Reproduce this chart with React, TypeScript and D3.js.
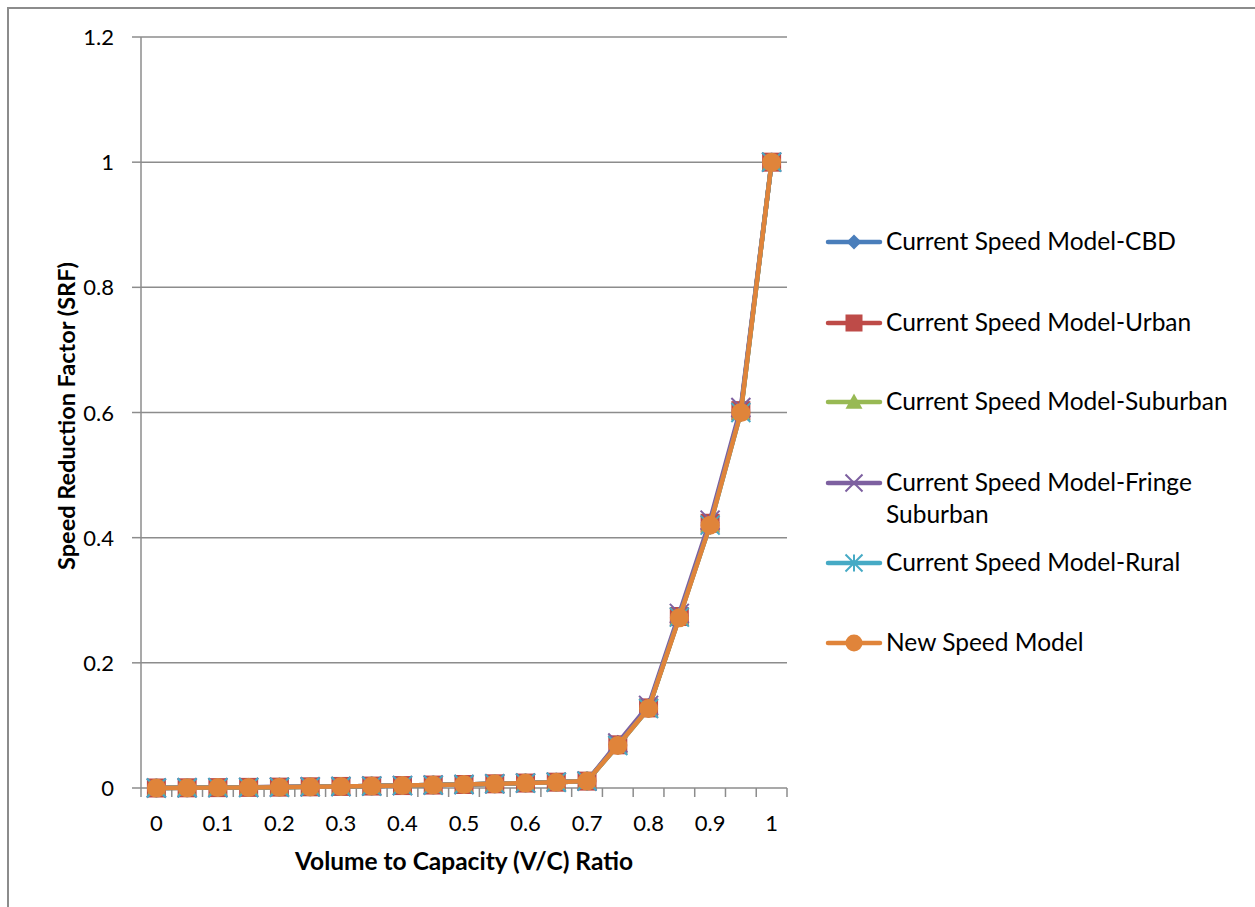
import * as d3 from "d3";

const categories = ["0", "0.05", "0.1", "0.15", "0.2", "0.25", "0.3", "0.35", "0.4", "0.45", "0.5", "0.55", "0.6", "0.65", "0.7", "0.75", "0.8", "0.85", "0.9", "0.95", "1"];
const tickLabels = ["0", "0.1", "0.2", "0.3", "0.4", "0.5", "0.6", "0.7", "0.8", "0.9", "1"];
const yTicks = [0, 0.2, 0.4, 0.6, 0.8, 1, 1.2];

const cbd = [0, 0.0003, 0.0006, 0.001, 0.0014, 0.0019, 0.0025, 0.0031, 0.0039, 0.0047, 0.0056, 0.0067, 0.0079, 0.0093, 0.011, 0.07, 0.129, 0.275, 0.424, 0.604, 1];
const urban = [0, 0.0003, 0.0006, 0.001, 0.0014, 0.0019, 0.0025, 0.0031, 0.0039, 0.0047, 0.0056, 0.0067, 0.0079, 0.0093, 0.011, 0.069, 0.128, 0.274, 0.423, 0.603, 1];
const suburban = [0, 0.0003, 0.0006, 0.0009, 0.0013, 0.0018, 0.0024, 0.003, 0.0038, 0.0046, 0.0055, 0.0066, 0.0078, 0.0092, 0.011, 0.068, 0.127, 0.273, 0.421, 0.601, 1];
const fringe = [0, 0.0003, 0.0006, 0.001, 0.0014, 0.0019, 0.0025, 0.0032, 0.004, 0.0048, 0.0057, 0.0068, 0.008, 0.0094, 0.0112, 0.072, 0.132, 0.279, 0.428, 0.608, 1];
const rural = [0, 0.0003, 0.0006, 0.0009, 0.0013, 0.0018, 0.0024, 0.003, 0.0038, 0.0046, 0.0055, 0.0066, 0.0078, 0.0092, 0.011, 0.068, 0.127, 0.273, 0.42, 0.6, 1];
const newModel = [0, 0.0003, 0.0006, 0.0009, 0.0013, 0.0018, 0.0024, 0.003, 0.0038, 0.0046, 0.0055, 0.0066, 0.0078, 0.0092, 0.011, 0.068, 0.127, 0.272, 0.42, 0.6, 1];

const seriesNames = [
  "Current Speed Model-CBD",
  "Current Speed Model-Urban",
  "Current Speed Model-Suburban",
  "Current Speed Model-Fringe Suburban",
  "Current Speed Model-Rural",
  "New Speed Model",
];
const seriesValues = [cbd, urban, suburban, fringe, rural, newModel];
const colors = ["#4A7EBB", "#BE4B48", "#98B954", "#7D60A0", "#46AAC5", "#E0843A"];
const markers = ["diamond", "square", "triangle", "x", "star", "circle"];

const FONT = "Lato, Calibri, sans-serif";
const GRID = "#8c8c8c";

const margin = { left: 141, right: 787, top: 37, bottom: 788 };

function Marker({ kind, x, y, color, size }: { kind: string; x: number; y: number; color: string; size: number }) {
  const h = size / 2;
  if (kind === "diamond") {
    return <path d={`M${x},${y - h}L${x + h},${y}L${x},${y + h}L${x - h},${y}Z`} fill={color} />;
  }
  if (kind === "square") {
    return <rect x={x - h} y={y - h} width={size} height={size} fill={color} />;
  }
  if (kind === "triangle") {
    return <path d={`M${x},${y - h}L${x + h},${y + h * 0.8}L${x - h},${y + h * 0.8}Z`} fill={color} />;
  }
  if (kind === "x") {
    return (
      <path d={`M${x - h},${y - h}L${x + h},${y + h}M${x - h},${y + h}L${x + h},${y - h}`} stroke={color} strokeWidth={2} fill="none" />
    );
  }
  if (kind === "star") {
    return (
      <path
        d={`M${x - h},${y - h}L${x + h},${y + h}M${x - h},${y + h}L${x + h},${y - h}M${x},${y - h}L${x},${y + h}`}
        stroke={color}
        strokeWidth={2}
        fill="none"
      />
    );
  }
  return <circle cx={x} cy={y} r={h} fill={color} />;
}

export default function App() {
  const x = d3.scaleBand<string>().domain(categories).range([margin.left, margin.right]).padding(0);
  const y = d3.scaleLinear().domain([0, 1.2]).range([margin.bottom, margin.top]);
  const cx = (c: string) => (x(c) ?? 0) + x.bandwidth() / 2;

  const line = d3
    .line<number>()
    .x((_, i) => cx(categories[i]))
    .y((d) => y(d));

  const boundaries = categories.map((c) => x(c) ?? 0).concat([margin.right]);

  const legendY = [242, 323, 402, 483, 563, 643];

  return (
    <div style={{ position: "absolute", left: 0, top: 0 }}>
      <svg width={1255} height={907} style={{ display: "block" }}>
        <rect x={0} y={0} width={1255} height={907} fill="#fff" />
        <rect x={8} y={8} width={1260} height={910} fill="none" stroke={GRID} strokeWidth={2} />

        {yTicks.map((t) => (
          <g key={t}>
            {t > 0 && <line x1={margin.left} x2={margin.right} y1={y(t)} y2={y(t)} stroke={GRID} strokeWidth={1.5} />}
            <line x1={margin.left - 9} x2={margin.left} y1={y(t)} y2={y(t)} stroke={GRID} strokeWidth={1.5} />
            <text x={114} y={y(t) + 8} textAnchor="end" fontFamily={FONT} fontSize={22} fill="#000">
              {String(t)}
            </text>
          </g>
        ))}

        <line x1={margin.left} x2={margin.left} y1={margin.top} y2={margin.bottom} stroke={GRID} strokeWidth={1.5} />
        <line x1={margin.left} x2={margin.right} y1={margin.bottom} y2={margin.bottom} stroke={GRID} strokeWidth={1.5} />
        {boundaries.map((b, i) => (
          <line key={i} x1={b} x2={b} y1={margin.bottom} y2={margin.bottom + 9} stroke={GRID} strokeWidth={1.5} />
        ))}
        {categories.map((c, i) =>
          i % 2 === 0 ? (
            <text key={c} x={cx(c)} y={831} textAnchor="middle" fontFamily={FONT} fontSize={22} fill="#000">
              {tickLabels[i / 2]}
            </text>
          ) : null
        )}

        <text x={(margin.left + margin.right) / 2} y={870} textAnchor="middle" fontFamily={FONT} fontSize={24.5} fontWeight="bold" fill="#000">
          Volume to Capacity (V/C) Ratio
        </text>
        <text
          transform={`translate(75,416) rotate(-90)`}
          textAnchor="middle"
          fontFamily={FONT}
          fontSize={23.5}
          fontWeight="bold"
          fill="#000"
        >
          Speed Reduction Factor (SRF)
        </text>

        {seriesValues.map((vals, s) => (
          <g key={seriesNames[s]}>
            <path d={line(vals) ?? ""} fill="none" stroke={colors[s]} strokeWidth={4.5} strokeLinejoin="round" strokeLinecap="round" />
            {vals.map((v, i) => (
              <Marker key={i} kind={markers[s]} x={cx(categories[i])} y={y(v)} color={colors[s]} size={19} />
            ))}
          </g>
        ))}

        {seriesNames.map((name, s) => {
          const ly = legendY[s];
          const parts = s === 3 ? ["Current Speed Model-Fringe", "Suburban"] : [name];
          return (
            <g key={name}>
              <line x1={828} x2={880} y1={ly} y2={ly} stroke={colors[s]} strokeWidth={4.5} strokeLinecap="round" />
              <Marker kind={markers[s]} x={854} y={ly} color={colors[s]} size={s === 0 ? 15 : 17} />
              {parts.map((p, k) => (
                <text key={k} x={886} y={ly + 8 + k * 32} fontFamily={FONT} fontSize={24.5} fill="#000">
                  {p}
                </text>
              ))}
            </g>
          );
        })}
      </svg>
    </div>
  );
}
